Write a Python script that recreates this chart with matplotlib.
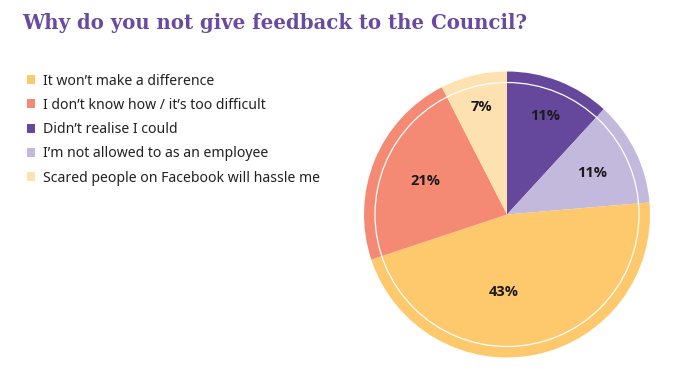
import matplotlib.pyplot as plt
from matplotlib.patches import Circle
import numpy as np

# pie order (clockwise from 12 o'clock)
categories = ["Didn\u2019t realise I could",
              "I\u2019m not allowed to as an employee",
              "It won\u2019t make a difference",
              "I don\u2019t know how / it\u2019s too difficult",
              "Scared people on Facebook will hassle me"]
values = [11, 11, 43, 21, 7]
colors = ["#65489b", "#c3b9dd", "#fec96d", "#f58a74", "#fee1b1"]
legend_order = [2, 3, 0, 1, 4]
label_dist = [0.74, 0.66, 0.54, 0.62, 0.77]
label_shift = [0, 0, -14, 0, 0]  # degrees

W, H = 685, 377
fig = plt.figure(figsize=(W / 100, H / 100), dpi=100)
ax = fig.add_axes([0, 0, 1, 1])

cx, cy, R = 507, H - 214.5, 143
wedges, _ = ax.pie(values, colors=colors, startangle=90, counterclock=False,
                   center=(cx, cy), radius=R, frame=True,
                   wedgeprops=dict(linewidth=0))
ax.set_xlim(0, W)
ax.set_ylim(0, H)
ax.set_aspect('equal')
ax.axis('off')

ax.add_patch(Circle((cx, cy), 132, fill=False, edgecolor='white', lw=0.9))

for w, v, d, s in zip(wedges, values, label_dist, label_shift):
    mid = np.deg2rad((w.theta1 + w.theta2) / 2 + s)
    ax.text(cx + d * R * np.cos(mid), cy + d * R * np.sin(mid), f"{v}%",
            ha='center', va='center', fontsize=10.5, fontweight='bold',
            family='Open Sans', color='#1a1a1a')

fig.text(22 / W, 1 - 23 / H, "Why do you not give feedback to the Council?",
         ha='left', va='center', fontsize=14.2, fontweight='bold',
         family='DejaVu Serif', color='#6a4a9e')

leg = ax.legend([wedges[i] for i in legend_order],
                [categories[i] for i in legend_order],
                loc='upper left', bbox_to_anchor=(14 / W, 1 - 61 / H),
                frameon=False, handlelength=0.6, handleheight=0.6,
                handletextpad=0.55, labelspacing=0.66,
                prop=dict(family='Noto Sans', size=10.1))
for t in leg.get_texts():
    t.set_color('#222222')

fig.savefig('out.png', dpi=100)
